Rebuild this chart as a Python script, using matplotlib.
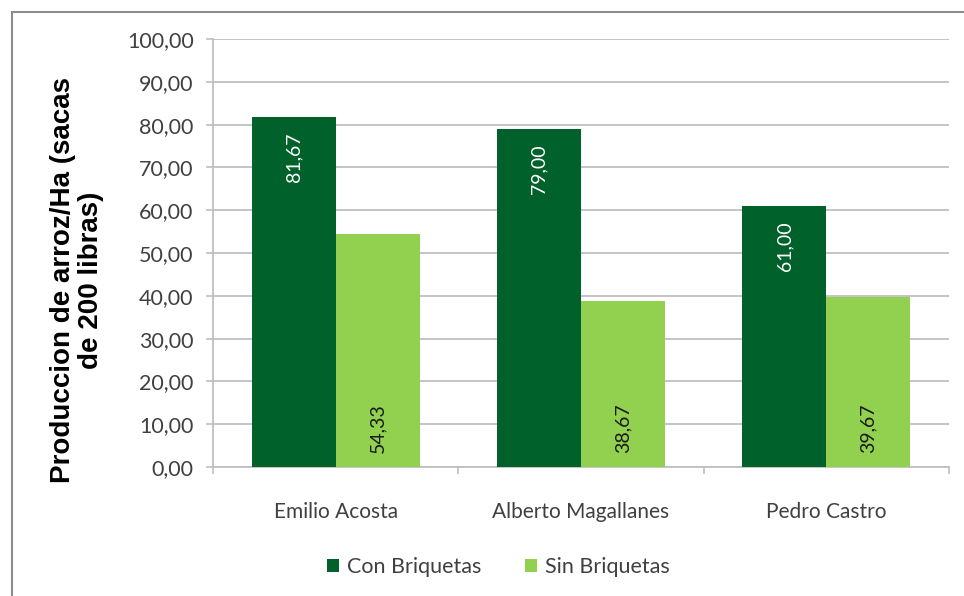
import matplotlib
matplotlib.use("Agg")
import matplotlib.pyplot as plt
from matplotlib.patches import Rectangle

# Data
productores = ["Emilio Acosta", "Alberto Magallanes", "Pedro Castro"]
con_briquetas = [81.67, 79.00, 61.00]
sin_briquetas = [54.33, 38.67, 39.67]
series_names = ["Con Briquetas", "Sin Briquetas"]
y_ticks = [0, 10, 20, 30, 40, 50, 60, 70, 80, 90, 100]

DARK = "#00612B"
LIGHT = "#92D050"
GRID = "#BFBFBF"
TEXT = "#404040"
FONT = "Lato"


def coma(v):
    return f"{v:.2f}".replace(".", ",")


fig = plt.figure(figsize=(9.64, 5.96), dpi=100)
ax = fig.add_axes([213 / 964, 129 / 596, 736 / 964, 428 / 596])

# outer chart frame (extends past right/bottom edges)
fig.patches.append(Rectangle((12 / 964, -0.1), 1.2, (596 - 12) / 596 + 0.1,
                             transform=fig.transFigure, fill=False,
                             edgecolor="#8C8C8C", linewidth=1.5, zorder=0))

w = 0.342
xs = list(range(len(productores)))
b1 = ax.bar([x - w / 2 for x in xs], con_briquetas, width=w, color=DARK,
            label=series_names[0], zorder=3)
b2 = ax.bar([x + w / 2 for x in xs], sin_briquetas, width=w, color=LIGHT,
            label=series_names[1], zorder=3)

for x, v in zip(xs, con_briquetas):
    ax.text(x - w / 2, v - 3.6, coma(v), rotation=90, ha="center", va="top",
            color="white", fontsize=14, family=FONT, zorder=4)
for x, v in zip(xs, sin_briquetas):
    ax.text(x + w / 2, 3.3, coma(v), rotation=90, ha="center", va="bottom",
            color="#1A1A1A", fontsize=14, family=FONT, zorder=4)

ax.set_xlim(-0.5, len(productores) - 0.5)
ax.set_ylim(0, 100)
ax.set_yticks(y_ticks)
ax.set_yticklabels([coma(v) for v in y_ticks], family=FONT, fontsize=15.5, color=TEXT)
ax.set_xticks(xs)
ax.set_xticklabels(productores, family=FONT, fontsize=15, color=TEXT)
ax.set_xticks([x - 0.5 for x in range(len(productores) + 1)], minor=True)
ax.tick_params(axis="x", which="major", length=0, pad=25)
ax.tick_params(axis="x", which="minor", length=5, width=1.2, color=GRID, direction="out")
ax.tick_params(axis="y", length=5, width=1.2, color=GRID, pad=9)

ax.grid(axis="y", color=GRID, linewidth=1.3, zorder=0)
ax.set_axisbelow(True)
for s in ["top", "right"]:
    ax.spines[s].set_visible(False)
for s in ["left", "bottom"]:
    ax.spines[s].set_color(GRID)
    ax.spines[s].set_linewidth(1.3)

fig.text(77 / 964, 1 - 280 / 596, "Produccion de arroz/Ha (sacas\nde 200 libras)",
         rotation=90, ha="center", va="center", multialignment="center",
         family="Liberation Sans", fontweight="bold", fontsize=20, color="black",
         linespacing=1.12)

leg = fig.legend(handles=[b1, b2], loc="center", bbox_to_anchor=(0.517, 1 - 567 / 596),
                 ncol=2, frameon=False, handlelength=0.55, handleheight=0.55,
                 handletextpad=0.4, columnspacing=2.0,
                 prop={"family": FONT, "size": 15.5})
for t in leg.get_texts():
    t.set_color(TEXT)

fig.savefig("out.png", dpi=100, facecolor="white")
